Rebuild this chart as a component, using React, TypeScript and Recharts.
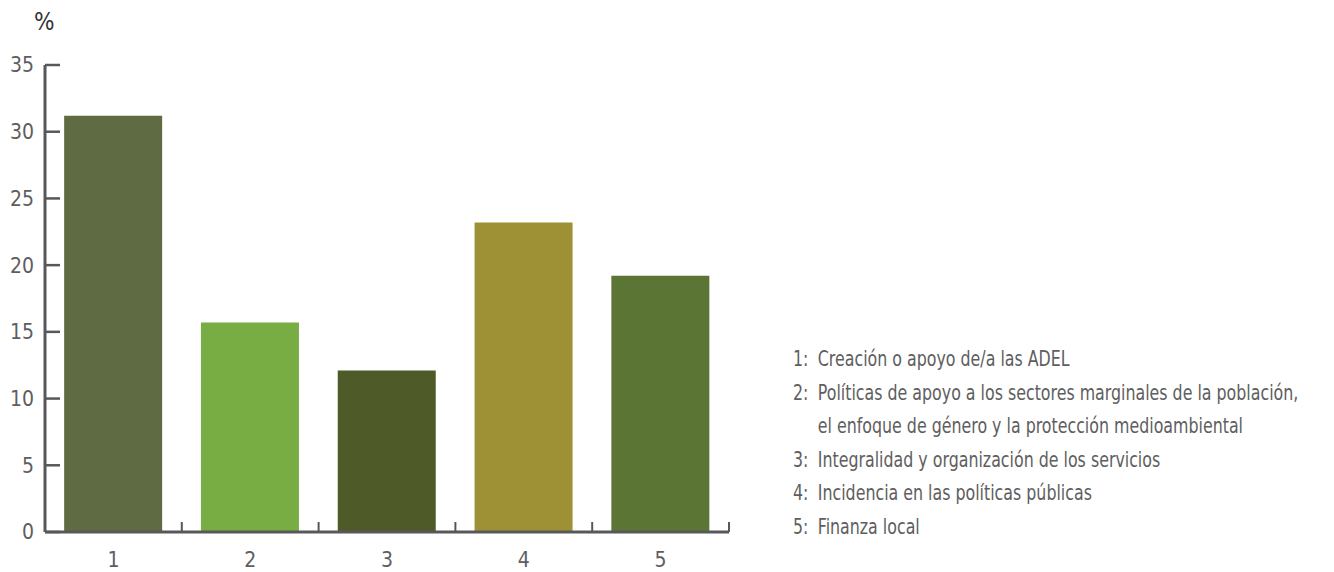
import React from 'react';
import { BarChart, Bar, XAxis, YAxis, Cell } from 'recharts';

const categories = ['1', '2', '3', '4', '5'];
const values = [31.2, 15.7, 12.1, 23.2, 19.2];
const colors = ['#5f6b43', '#77ad42', '#4e5b29', '#9e9035', '#5b7535'];
const yTicks = [0, 5, 10, 15, 20, 25, 30, 35];
const boundaryTicks = [1, 2, 3, 4, 5];
const legendNumbers = ['1:', '2:', '3:', '4:', '5:'];
const legendTexts = [
  ['Creación o apoyo de/a las ADEL'],
  ['Políticas de apoyo a los sectores marginales de la población,', 'el enfoque de género y la protección medioambiental'],
  ['Integralidad y organización de los servicios'],
  ['Incidencia en las políticas públicas'],
  ['Finanza local'],
];

const FONT = '"Liberation Sans Narrow", "DejaVu Sans Condensed", "Roboto", sans-serif';
const AXIS = '#58585a';
const TEXT = '#5e5e60';

const data = categories.map((c, i) => ({ cat: c, value: values[i], pos: i + 0.5 }));
const blank = () => '';

export default function App() {
  return (
    <div style={{ position: 'fixed', left: 0, top: 0, width: 1334, height: 572, background: '#fff', fontFamily: FONT }}>
      <div style={{ position: 'absolute', left: 34, top: 8, fontSize: 24, color: '#333', fontFamily: FONT }}>%</div>
      <BarChart
        width={760}
        height={572}
        data={data}
        margin={{ top: 65, right: 31, bottom: 0, left: 0 }}
        barCategoryGap="14%"
      >
        <XAxis
          dataKey="cat"
          tickLine={false}
          tickSize={0}
          tickMargin={20}
          height={40}
          axisLine={{ stroke: AXIS, strokeWidth: 3 }}
          tick={{ fill: TEXT, fontSize: 21, fontFamily: FONT }}
        />
        <XAxis
          xAxisId="b"
          dataKey="pos"
          type="number"
          domain={[0, 5]}
          ticks={boundaryTicks}
          allowDataOverflow
          mirror
          axisLine={false}
          tickFormatter={blank}
          tick={{ fontSize: 1 }}
          tickSize={10}
          tickLine={{ stroke: AXIS, strokeWidth: 2 }}
          height={1}
        />
        <YAxis
          domain={[0, 35]}
          ticks={yTicks}
          width={45}
          tickLine={false}
          tickSize={0}
          tickMargin={11}
          axisLine={{ stroke: AXIS, strokeWidth: 3 }}
          tick={{ fill: TEXT, fontSize: 21, fontFamily: FONT }}
        />
        <YAxis
          yAxisId="m"
          dataKey="value"
          type="number"
          domain={[0, 35]}
          ticks={yTicks}
          allowDataOverflow
          mirror
          axisLine={false}
          tickFormatter={blank}
          tick={{ fontSize: 1 }}
          tickSize={15}
          tickLine={{ stroke: AXIS, strokeWidth: 2.5 }}
          width={1}
        />
        <Bar dataKey="value" isAnimationActive={false}>
          {data.map((d, i) => (
            <Cell key={d.cat} fill={colors[i]} />
          ))}
        </Bar>
      </BarChart>
      <div
        style={{
          position: 'absolute',
          left: 793,
          top: 342,
          fontSize: 22,
          color: TEXT,
          fontFamily: FONT,
          lineHeight: '33.5px',
          transform: 'scaleX(0.8)',
          transformOrigin: 'left top',
        }}
      >
        {legendNumbers.map((n, i) => (
          <div key={n} style={{ display: 'flex' }}>
            <div style={{ width: 31 }}>{n}</div>
            <div>
              {legendTexts[i].map((t) => (
                <div key={t} style={{ whiteSpace: 'nowrap' }}>{t}</div>
              ))}
            </div>
          </div>
        ))}
      </div>
    </div>
  );
}
